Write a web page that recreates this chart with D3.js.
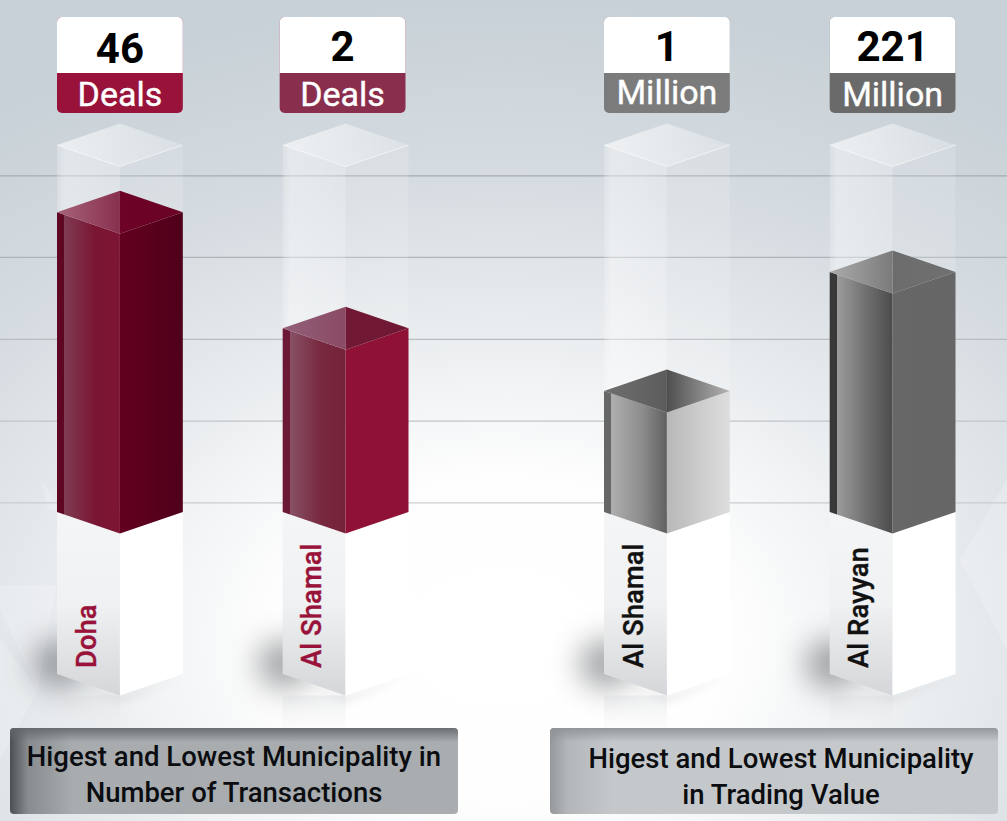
<!DOCTYPE html>
<html>

<head>
  <meta charset='utf-8'>
  <title>Municipality Deals</title>
  <script src="https://cdnjs.cloudflare.com/ajax/libs/d3/7.8.5/d3.min.js"></script>
  <style>
    html, body {
      margin: 0;
      padding: 0;
      background: #fff;
    }

    svg {
      display: block;
      font-family: Roboto, sans-serif;
    }
  </style>
</head>

<body>
  <svg id="chart"></svg>
  <script>
    // the data
    const transactionPlaces = ["Doha", "Al Shamal"];
    const transactionValues = [46, 2];
    // the column fill is not proportional to the value, so levels (% of the glass column) are read separately
    const transactionLevels = [81.7, 50.1];

    const tradingPlaces = ["Al Shamal", "Al Rayyan"];
    const tradingValues = [1, 221];
    const tradingLevels = [33, 65.4];

    const gridLevels = [2.6, 24.9, 47.2, 69.5, 91.7];

    const transactionCaption = ["Higest and Lowest Municipality in", "Number of Transactions"];
    const tradingCaption = ["Higest and Lowest Municipality", "in Trading Value"];

    const width = 1007;
    const height = 821;

    const themes = [
      { box: "#98123a", sliver: "#5f0722", l1: "#7f3c52", l2: "#7a1633", l3: "#7b1533", r1: "#63001f", r2: "#4f001a", tl1: "#a7647b", tl2: "#88304e", tr1: "#6d0326", tr2: "#6a0325", text: "#98123a" },
      { box: "#8a2e4e", sliver: "#6b1935", l1: "#875165", l2: "#78293f", l3: "#742238", r1: "#8f1236", r2: "#8f1236", tl1: "#93607a", tl2: "#8a4a63", tr1: "#711834", tr2: "#701733", text: "#98123a" },
      { box: "#7b7b7b", sliver: "#676767", l1: "#aeaeae", l2: "#8d8d8d", l3: "#606060", r1: "#b8b8b8", r2: "#dedede", tl1: "#6f6f6f", tl2: "#5c5c5c", tr1: "#4f4f4f", tr2: "#b4b4b4", text: "#111" },
      { box: "#6a6a6a", sliver: "#383838", l1: "#9c9c9c", l2: "#6e6e6e", l3: "#4c4c4c", r1: "#676767", r2: "#666666", tl1: "#ababab", tl2: "#7b7b7b", tr1: "#6c6c6c", tr2: "#707070", text: "#111" }
    ];

    const columns = [];
    transactionPlaces.forEach((place, i) => columns.push({ panel: 0, place, value: transactionValues[i], unit: "Deals", level: transactionLevels[i], boxShift: i == 1 ? -3 : 0, unitY: 106, valueY: i == 0 ? 63 : 61 }));
    tradingPlaces.forEach((place, i) => columns.push({ panel: 1, place, value: tradingValues[i], unit: "Million", level: tradingLevels[i], boxShift: 0, unitY: i == 0 ? 104 : 106, valueY: 61 }));
    columns.forEach((c, i) => c.theme = themes[i]);

    // scales
    const xPanels = [
      d3.scaleBand().domain(transactionPlaces).range([57, 408.5]).paddingInner(0.4425),
      d3.scaleBand().domain(tradingPlaces).range([604, 955.5]).paddingInner(0.4425)
    ];
    const y = d3.scaleLinear().domain([0, 100]).range([512, 145]);
    const rise = 21.5;      // depth of the diamond
    const baseY = y(0);
    const floorY = 674;

    const svg = d3.select("#chart").attr("width", width).attr("height", height);
    const defs = svg.append("defs");

    function gradient(id, stops, x1 = 0, y1 = 0, x2 = 1, y2 = 0) {
      const g = defs.append("linearGradient").attr("id", id)
        .attr("x1", x1).attr("y1", y1).attr("x2", x2).attr("y2", y2);
      stops.forEach(s => g.append("stop").attr("offset", s[0]).attr("stop-color", s[1]).attr("stop-opacity", s[2] === undefined ? 1 : s[2]));
      return `url(#${id})`;
    }

    defs.append("filter").attr("id", "blur").attr("x", "-80%").attr("y", "-80%").attr("width", "260%").attr("height", "260%")
      .append("feGaussianBlur").attr("stdDeviation", 15);
    defs.append("filter").attr("id", "blurSmall").attr("x", "-20%").attr("y", "-60%").attr("width", "140%").attr("height", "220%")
      .append("feGaussianBlur").attr("stdDeviation", 4);

    // background, one big soft glow around the lower middle
    const glow = defs.append("radialGradient").attr("id", "bg")
      .attr("gradientUnits", "userSpaceOnUse")
      .attr("cx", 0).attr("cy", 0).attr("r", 1)
      .attr("gradientTransform", "translate(503,640) scale(900,640)");
    [[0, "#ffffff"], [0.25, "#fefefe"], [0.47, "#ebeef0"], [0.72, "#d6dce1"], [1, "#c8d1d7"]].forEach(s =>
      glow.append("stop").attr("offset", s[0]).attr("stop-color", s[1]));
    svg.append("rect").attr("width", width).attr("height", height).attr("fill", "url(#bg)");

    // faint facets behind the bars
    const facets = [
      [[0, 585], [56, 585], [38, 690], [0, 610]],
      [[0, 640], [38, 690], [0, 760]],
      [[40, 478], [56, 500], [56, 512], [48, 510]],
      [[1007, 480], [960, 560], [1007, 650]]
    ];
    svg.append("g").selectAll("path").data(facets).join("path")
      .attr("d", d => d3.line()(d) + "Z")
      .attr("fill", "#fff").attr("opacity", 0.18);

    // gridlines through an axis, they fade towards the white floor
    const gridAxis = d3.axisLeft(y).tickValues(gridLevels).tickSize(-width).tickFormat("");
    const grid = svg.append("g").attr("class", "grid").call(gridAxis);
    grid.select(".domain").remove();
    grid.selectAll("line")
      .attr("stroke", d => d3.interpolateRgb("#cbced0", "#a3aaaf")(d / 100))
      .attr("stroke-width", 1.2);

    function faces(x0, xm, x1, top) {
      return {
        topDiamond: [[x0, top], [xm, top - rise], [x1, top], [xm, top + rise]],
        topLeft: [[x0, top], [xm, top - rise], [xm, top + rise]],
        topRight: [[xm, top - rise], [x1, top], [xm, top + rise]],
        left: [[x0, top], [xm, top + rise], [xm, baseY + rise], [x0, baseY]],
        right: [[xm, top + rise], [x1, top], [x1, baseY], [xm, baseY + rise]]
      };
    }

    const poly = d => d3.line()(d) + "Z";

    columns.forEach((c, i) => {
      const x = xPanels[c.panel];
      const x0 = x(c.place);
      const w = x.bandwidth();
      const xm = x0 + w / 2;
      const x1 = x0 + w;
      const g = svg.append("g").attr("class", "column");
      const t = c.theme;

      // soft shadow left of the plinth
      g.append("ellipse").attr("cx", x0 + 2).attr("cy", 664).attr("rx", 26).attr("ry", 24)
        .attr("fill", "#505356").attr("opacity", 0.55).attr("filter", "url(#blur)");
      g.append("path")
        .attr("d", poly([[x0, floorY + 2], [xm, floorY + rise + 2], [x1, floorY + 2], [xm, floorY + rise + 6]]))
        .attr("fill", "#9a9da0").attr("opacity", 0.35).attr("filter", "url(#blurSmall)");

      // reflection on the floor
      g.append("rect").attr("x", x0).attr("y", floorY + rise).attr("width", w / 2).attr("height", 728 - floorY - rise)
        .attr("fill", gradient(`refl${i}`, [[0, "#d9dbdd", 0.45], [1, "#eceef0", 0.12]], 0, 0, 0, 1));

      // white plinth
      g.append("path").attr("d", poly([[x0, baseY], [xm, baseY + rise], [xm, floorY + rise], [x0, floorY]]))
        .attr("fill", gradient(`plinth${i}`, [[0, "#f4f5f6"], [0.5, "#f0f1f2"], [1, "#d5d6d9"]], 0, 0, 0, 1));
      g.append("path").attr("d", poly([[xm, baseY + rise], [x1, baseY], [x1, floorY], [xm, floorY + rise]]))
        .attr("fill", "#fff");

      // glass column
      const glass = faces(x0, xm, x1, y(100));
      const barTop = y(c.level);
      g.append("path").attr("d", poly([[x0, y(100)], [xm, y(100) + rise], [xm, barTop], [x0, barTop]]))
        .attr("fill", gradient(`glassL${i}`, [[0, "#fff", 0.18], [0.12, "#fff", 0.42], [1, "#fff", 0.3]]));
      g.append("path").attr("d", poly([[xm, y(100) + rise], [x1, y(100)], [x1, barTop], [xm, barTop]]))
        .attr("fill", "#fff").attr("opacity", 0.14);
      g.append("path").attr("d", poly(glass.topDiamond))
        .attr("fill", gradient(`glassT${i}`, [[0, "#fff", 0.62], [1, "#fff", 0.22]]));
      g.append("path")
        .attr("d", d3.line()([[x0, y(100)], [xm, y(100) + rise], [x1, y(100)]]))
        .attr("fill", "none").attr("stroke", "#fff").attr("stroke-opacity", 0.6);

      // the solid bar
      const bar = faces(x0, xm, x1, barTop);
      g.append("path").attr("d", poly(bar.left))
        .attr("fill", gradient(`barL${i}`, [[0, t.sliver], [0.115, t.sliver], [0.116, t.l1], [0.6, t.l2], [1, t.l3]]));
      g.append("path").attr("d", poly(bar.right))
        .attr("fill", gradient(`barR${i}`, [[0, t.r1], [1, t.r2]]));
      g.append("path").attr("d", poly(bar.topLeft))
        .attr("fill", gradient(`barTL${i}`, [[0, t.tl1], [1, t.tl2]]));
      g.append("path").attr("d", poly(bar.topRight))
        .attr("fill", gradient(`barTR${i}`, [[0, t.tr1], [1, t.tr2]]));

      // value box
      const bx = x0 + c.boxShift;
      const bc = bx + w / 2;
      g.append("rect").attr("x", bx).attr("y", 17).attr("width", w).attr("height", 96).attr("rx", 5)
        .attr("fill", t.box);
      g.append("path")
        .attr("d", `M${bx},73V22a5,5 0 0 1 5,-5H${bx + w - 5}a5,5 0 0 1 5,5V73Z`)
        .attr("fill", "#fff");
      g.append("text").attr("x", bc).attr("y", c.valueY).attr("text-anchor", "middle")
        .attr("font-size", 42).attr("font-weight", 700).attr("fill", "#000").text(c.value);
      g.append("text").attr("x", bc).attr("y", c.unitY).attr("text-anchor", "middle")
        .attr("font-size", 34).attr("font-weight", 400).attr("stroke", "#fff").attr("stroke-width", 0.4)
        .attr("fill", "#fff").text(c.unit);

      // place name
      g.append("text").attr("transform", `translate(${x0 + 38.5},668) rotate(-90)`)
        .attr("font-size", 27.5).attr("font-weight", 500).attr("stroke", t.text).attr("stroke-width", 0.4)
        .attr("fill", t.text).text(c.place);
    });

    // caption boxes
    const captions = [
      { x: 10, lines: transactionCaption, fill: ["#4b5054", "#888c8f", "#a8acaf", "#a9adb0"], top: "#63676a", ys: [766, 802], cx: 234 },
      { x: 550, lines: tradingCaption, fill: ["#94989b", "#b4b7ba", "#c5c8ca", "#c6c9cb"], top: "#8e9295", ys: [768, 804], cx: 781 }
    ];
    captions.forEach((c, i) => {
      const g = svg.append("g");
      g.append("rect").attr("x", c.x).attr("y", 728).attr("width", 448).attr("height", 86).attr("rx", 4)
        .attr("fill", gradient(`capH${i}`, [[0, c.fill[0]], [0.04, c.fill[1]], [0.14, c.fill[2]], [1, c.fill[3]]]));
      g.append("rect").attr("x", c.x).attr("y", 728).attr("width", 448).attr("height", 14).attr("rx", 4)
        .attr("fill", gradient(`capV${i}`, [[0, c.top, 0.9], [1, c.top, 0]], 0, 0, 0, 1));
      g.selectAll("text").data(c.lines).join("text")
        .attr("x", c.cx).attr("y", (d, j) => c.ys[j]).attr("text-anchor", "middle")
        .attr("font-size", 27.5).attr("font-weight", 500).attr("fill", "#0b0d10").text(d => d);
    });
  </script>
</body>

</html>
